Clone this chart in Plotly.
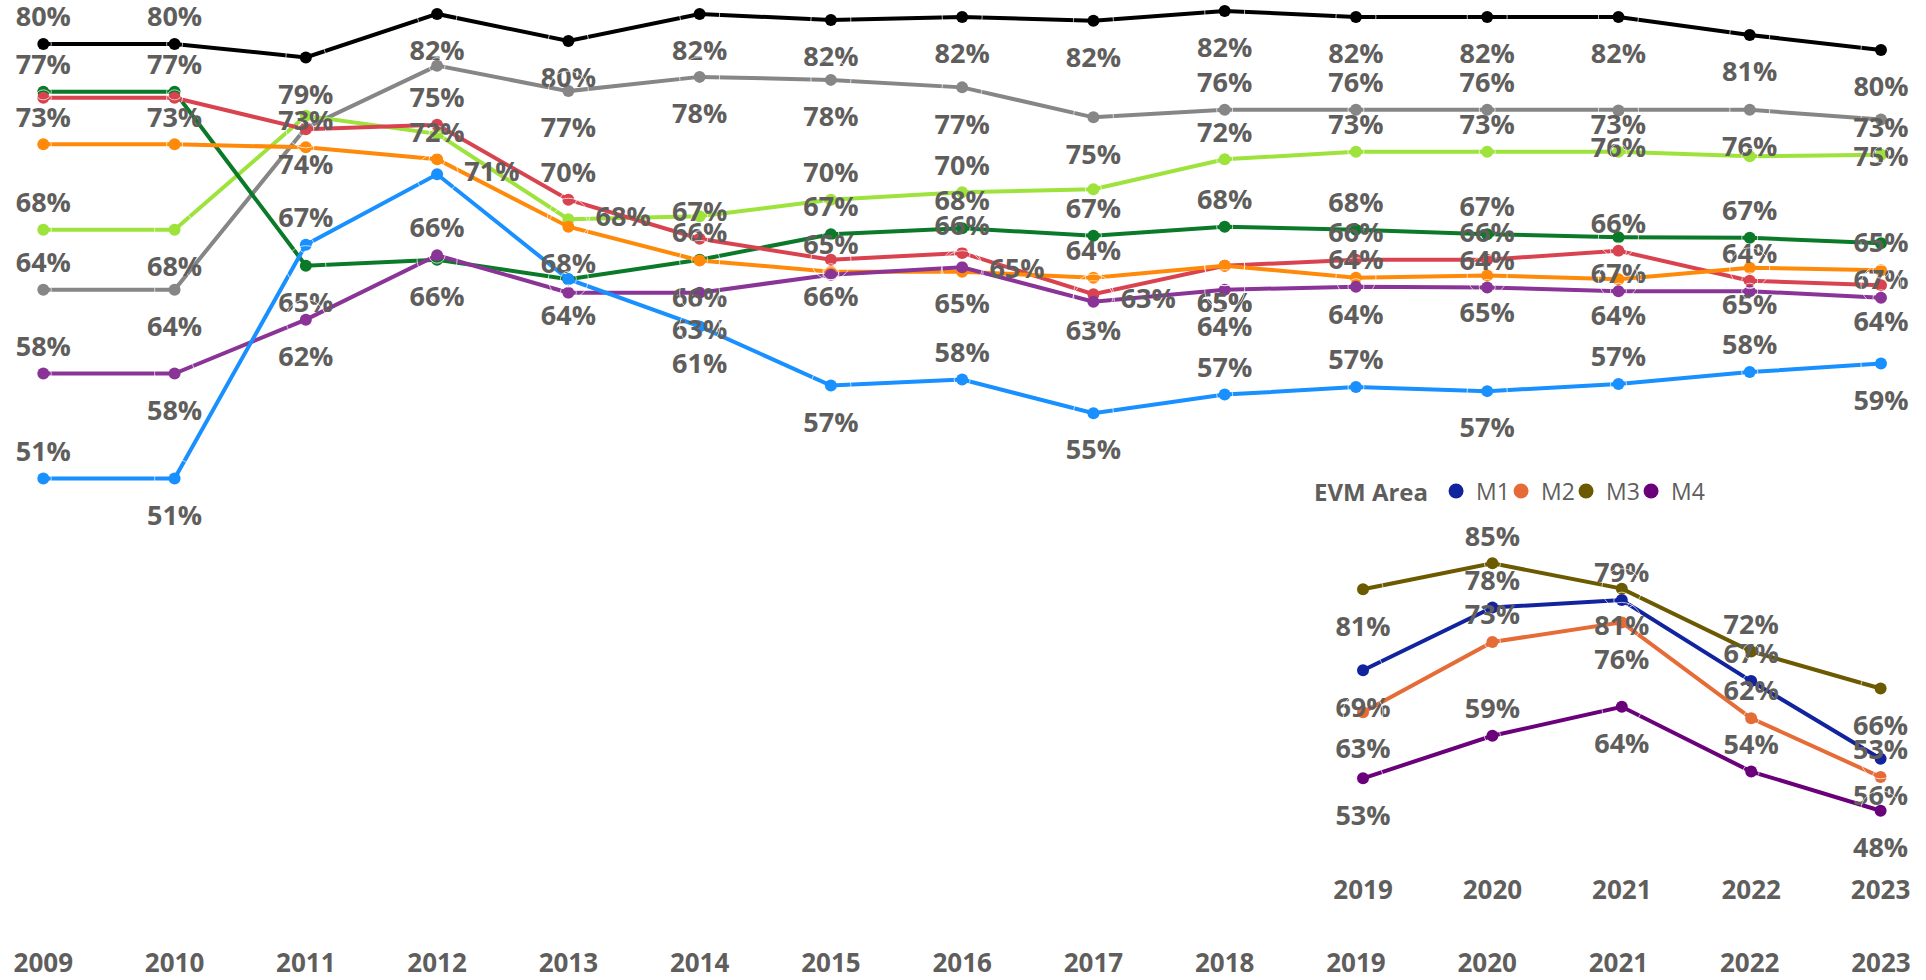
import plotly.graph_objects as go

years = list(range(2009, 2024))

# main chart, one list per line (values in %)
black  = [80.0, 80.0, 79.1, 82.0, 80.2, 82.0, 81.6, 81.8, 81.55, 82.2, 81.8, 81.8, 81.8, 80.6, 79.6]
gray   = [63.6, 63.6, 74.4, 78.55, 76.85, 77.8, 77.6, 77.1, 75.1, 75.6, 75.6, 75.6, 75.55, 75.6, 74.95]
lime   = [67.6, 67.6, 75.2, 74.0, 68.3, 68.5, 69.6, 70.1, 70.3, 72.3, 72.8, 72.8, 72.8, 72.5, 72.6]
green  = [76.8, 76.8, 65.2, 65.6, 64.3, 65.6, 67.3, 67.7, 67.2, 67.8, 67.6, 67.3, 67.1, 67.06, 66.7]
red    = [76.4, 76.4, 74.3, 74.6, 69.6, 67.0, 65.6, 66.05, 63.3, 65.2, 65.6, 65.6, 66.2, 64.2, 63.9]
orange = [73.3, 73.3, 73.1, 72.3, 67.8, 65.55, 64.8, 64.8, 64.4, 65.2, 64.4, 64.55, 64.3, 65.06, 64.9]
purple = [58.0, 58.0, 61.6, 65.9, 63.4, 63.4, 64.6, 65.1, 62.8, 63.6, 63.8, 63.75, 63.5, 63.5, 63.06]
blue   = [51.0, 51.0, 66.6, 71.3, 64.3, 61.15, 57.2, 57.6, 55.36, 56.6, 57.1, 56.83, 57.3, 58.1, 58.67]

# inset: EVM Area
evm_years = [2019, 2020, 2021, 2022, 2023]
m1 = [69.0, 78.3, 79.4, 67.4, 55.9]
m2 = [62.8, 73.2, 76.1, 61.9, 53.2]
m3 = [81.0, 84.85, 81.1, 71.8, 66.3]
m4 = [53.0, 59.3, 63.6, 54.0, 48.2]

# label placement per point: a=above, b=below, r=right, -=no label
POS = {"a": "top center", "b": "bottom center", "r": "middle right", "-": "top center"}
# invisible marker size that sets the label gap for each placement
GAP = {"a": 16, "b": 40, "r": 42, "-": 16}

main_series = [
    ("Black", black, "#000000", "aabbbbbbbbbbbbb"),
    ("Gray", gray, "#868686", "abb-bbbbbaaabbb"),
    ("Lime", lime, "#9DE33B", "ab--r-aa-aaaa-a"),
    ("Green", green, "#0A7A28", "aabbbaaaaaaabab"),
    ("Red", red, "#D9434F", "---aaababbaaaab"),
    ("Orange", orange, "#FF8A0A", "aaaabbarabbbbba"),
    ("Purple", purple, "#8B3497", "abba-b-brbaa---"),
    ("Blue", blue, "#1890FF", "abar-bbabaabaab"),
]

evm_series = [
    ("M1", m1, "#12239E", "baaab"),
    ("M2", m2, "#E66C37", "babaa"),
    ("M3", m3, "#6B5A00", "babab"),
    ("M4", m4, "#6B007B", "babab"),
]

GREY_TXT = "#605E5C"
LABEL_FONT = dict(family="Open Sans", size=27, color=GREY_TXT, weight="bold")


def pct(v):
    return f"{int(v + 0.5)}%"


fig = go.Figure()

# lines and dots
for name, vals, color, lbl in main_series:
    fig.add_trace(go.Scatter(
        x=years, y=vals, name=name, mode="lines+markers",
        line=dict(color=color, width=4),
        marker=dict(color=color, size=12),
        cliponaxis=False, showlegend=False,
    ))

for name, vals, color, lbl in evm_series:
    fig.add_trace(go.Scatter(
        x=evm_years, y=vals, name=name, mode="lines+markers",
        xaxis="x2", yaxis="y2",
        line=dict(color=color, width=4),
        marker=dict(color=color, size=12),
        cliponaxis=False, showlegend=False,
    ))
    # dot-only legend entry for the EVM Area legend
    fig.add_trace(go.Scatter(
        x=[None], y=[None], name=name, mode="markers",
        xaxis="x2", yaxis="y2",
        marker=dict(color=color, size=15),
    ))

# blank legend slot so the last entry's text is not clipped
fig.add_trace(go.Scatter(
    x=[None], y=[None], name=" ", mode="markers",
    xaxis="x2", yaxis="y2", hoverinfo="skip",
    marker=dict(color="rgba(0,0,0,0)", size=1),
))


# data labels on top of every line
def add_labels(xs, vals, lbl, xa="x", ya="y"):
    fig.add_trace(go.Scatter(
        x=xs, y=vals, mode="markers+text",
        xaxis=xa, yaxis=ya,
        marker=dict(size=[GAP[p] for p in lbl], color="rgba(0,0,0,0)"),
        text=["" if p == "-" else pct(v) for v, p in zip(vals, lbl)],
        textposition=[POS[p] for p in lbl],
        textfont=LABEL_FONT,
        cliponaxis=False, showlegend=False, hoverinfo="skip",
    ))


for name, vals, color, lbl in main_series:
    add_labels(years, vals, lbl)
for name, vals, color, lbl in evm_series:
    add_labels(evm_years, vals, lbl, "x2", "y2")

tick_font = dict(family="Open Sans", size=26, color=GREY_TXT, weight="bold")

fig.update_layout(
    width=1926, height=980,
    margin=dict(l=0, r=0, t=0, b=0),
    plot_bgcolor="white", paper_bgcolor="white",
    xaxis=dict(domain=[0, 1], range=[2008.670, 2023.343], tickmode="array",
               tickvals=years, ticktext=[str(y) for y in years],
               showgrid=False, zeroline=False, showline=False, tickfont=tick_font, ticks=""),
    yaxis=dict(domain=[0.0357, 1], range=[19.87, 82.93], visible=False),
    xaxis2=dict(domain=[0.6698, 1], range=[2018.436, 2023.351], anchor="y2",
                tickmode="array", tickvals=evm_years, ticktext=[str(y) for y in evm_years],
                showgrid=False, zeroline=False, showline=False, tickfont=tick_font, ticks=""),
    yaxis2=dict(domain=[0.1102, 0.4694], range=[39.12, 91.27], anchor="x2", visible=False),
    legend=dict(
        orientation="h", x=1312 / 1926, y=0.499, xanchor="left", yanchor="middle",
        title=dict(text="<b>EVM Area</b>", side="left",
                   font=dict(family="Open Sans", size=24, color=GREY_TXT)),
        font=dict(family="Open Sans", size=23, color=GREY_TXT),
        itemwidth=30, entrywidth=20, entrywidthmode="pixels",
        itemclick=False, itemdoubleclick=False, bgcolor="rgba(0,0,0,0)",
    ),
)

fig.write_html("out.html", config={"displayModeBar": False},
               post_script="document.body.style.margin='0';")
